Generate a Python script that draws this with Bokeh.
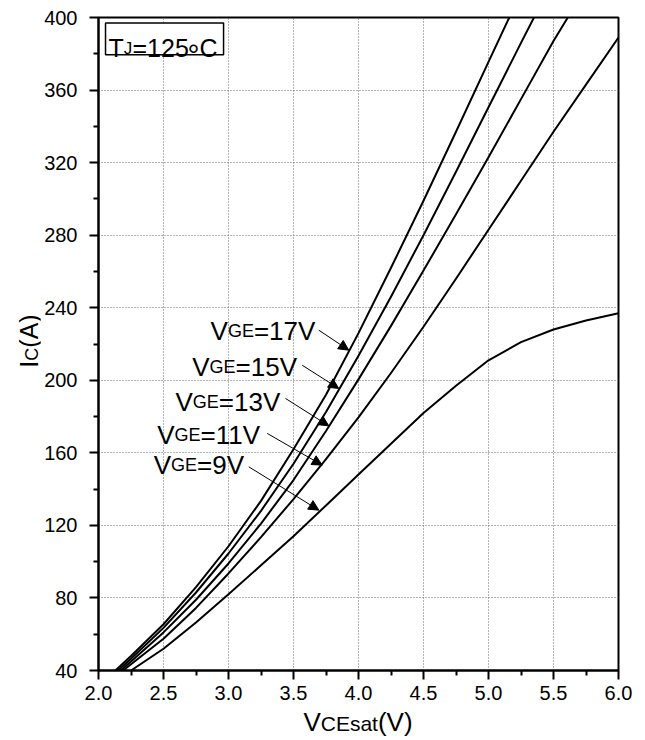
import math
from bokeh.plotting import figure
from bokeh.layouts import row, column
from bokeh.models import (FixedTicker, Label, Arrow, NormalHead, BoxAnnotation,
                          Range1d, PrintfTickFormatter, Div)
from bokeh.embed import file_html
from bokeh.resources import INLINE

# ---------------- data ----------------
vce_17 = [2.13, 2.25, 2.5, 2.75, 3.0, 3.25, 3.5, 3.75, 4.0, 4.25, 4.5, 4.75, 5.0, 5.16]
ic_17 = [40, 48, 65.5, 86, 108.5, 133.5, 162, 192, 226, 262, 299, 337, 375.5, 400]

vce_15 = [2.15, 2.25, 2.5, 2.75, 3.0, 3.25, 3.5, 3.75, 4.0, 4.25, 4.5, 4.75, 5.0, 5.25, 5.35]
ic_15 = [40, 46.5, 63.5, 83, 104.5, 128, 154, 182.5, 213.5, 246, 280, 315, 350.5, 386, 400]

vce_13 = [2.17, 2.25, 2.5, 2.75, 3.0, 3.25, 3.5, 3.75, 4.0, 4.25, 4.5, 4.75, 5.0, 5.25, 5.5, 5.61]
ic_13 = [40, 45, 61, 79, 99, 121, 145, 172, 200.5, 230, 260.5, 291.5, 323, 355, 387, 400]

vce_11 = [2.19, 2.25, 2.5, 2.75, 3.0, 3.25, 3.5, 3.75, 4.0, 4.25, 4.5, 4.75, 5.0, 5.25, 5.5, 5.75, 6.0]
ic_11 = [40, 43.5, 57.5, 74.5, 93.5, 113.5, 134.5, 156.5, 179.5, 204, 229.5, 256, 283, 310, 337, 363, 389]

vce_9 = [2.25, 2.5, 2.75, 3.0, 3.25, 3.5, 3.75, 4.0, 4.25, 4.5, 4.75, 5.0, 5.25, 5.5, 5.75, 6.0]
ic_9 = [40, 52, 66.5, 82, 98, 114, 131, 148, 165, 182, 197, 211, 221, 228, 233, 237]

series_names = ["17", "15", "13", "11", "9"]

x_ticks = [2.0, 2.5, 3.0, 3.5, 4.0, 4.5, 5.0, 5.5, 6.0]
x_tick_labels = ["2.0", "2.5", "3.0", "3.5", "4.0", "4.5", "5.0", "5.5", "6.0"]
x_minor = [2.25, 2.75, 3.25, 3.75, 4.25, 4.75, 5.25, 5.75]
y_ticks = [40, 80, 120, 160, 200, 240, 280, 320, 360, 400]
y_tick_labels = ["40", "80", "120", "160", "200", "240", "280", "320", "360", "400"]
y_minor = [60, 100, 140, 180, 220, 260, 300, 340, 380]

# label anchor positions (data coords) and arrows (data coords)
label_pos = {"17": (2.862, 227.0), "15": (2.721, 207.4), "13": (2.592, 188.1),
             "11": (2.452, 169.8), "9": (2.425, 153.2)}
arrow_pos = {"17": (3.695, 227.6, 3.925, 216.6), "15": (3.567, 208.3, 3.848, 195.5),
             "13": (3.438, 190.0, 3.771, 174.9), "11": (3.298, 170.7, 3.721, 153.2),
             "9": (3.156, 152.3, 3.695, 128.4)}

FONT = "Liberation Sans"
# Arial/Liberation Sans advance widths (em)
ADV = {"V": 0.667, "G": 0.778, "E": 0.667, "=": 0.584, "T": 0.611, "J": 0.5,
       "C": 0.722, "I": 0.278, "(": 0.333, ")": 0.333, "A": 0.667, "s": 0.5,
       "a": 0.556, "t": 0.278}
for d in "0123456789":
    ADV[d] = 0.556


def text_width(s, size):
    return sum(ADV.get(ch, 0.556) for ch in s) * size


YDIV_W = 40
XDIV_H = 30

p = figure(width=645 - YDIV_W, height=740 - XDIV_H, x_range=Range1d(2.0, 6.0), y_range=Range1d(40, 400),
           output_backend="svg", toolbar_location=None,
           min_border_left=98 - YDIV_W, min_border_right=27, min_border_top=17,
           min_border_bottom=70 - XDIV_H)
p.background_fill_color = "white"
p.border_fill_color = "white"
p.outline_line_color = "black"
p.outline_line_width = 2
p.outline_line_alpha = 1

# axes
p.xaxis.ticker = FixedTicker(ticks=x_ticks, minor_ticks=x_minor)
p.yaxis.ticker = FixedTicker(ticks=y_ticks, minor_ticks=y_minor)
p.xaxis.formatter = PrintfTickFormatter(format="%.1f")
p.yaxis.formatter = PrintfTickFormatter(format="%d")
p.xaxis.major_label_overrides = dict(zip(x_ticks, x_tick_labels))
p.yaxis.major_label_overrides = dict(zip(y_ticks, y_tick_labels))
for ax in (p.xaxis[0], p.yaxis[0]):
    ax.axis_line_width = 2
    ax.axis_line_color = "black"
    ax.major_tick_out = 9
    ax.major_tick_in = 0
    ax.minor_tick_out = 5
    ax.minor_tick_in = 0
    ax.major_tick_line_width = 2
    ax.minor_tick_line_width = 2
    ax.major_tick_line_color = "black"
    ax.minor_tick_line_color = "black"
    ax.major_label_text_font = FONT
    ax.major_label_text_font_size = "20px"
    ax.major_label_text_color = "black"
p.xaxis.major_label_standoff = 6
p.yaxis.major_label_standoff = 12

p.xgrid.ticker = FixedTicker(ticks=x_ticks)
p.ygrid.ticker = FixedTicker(ticks=y_ticks)
for g in (p.xgrid[0], p.ygrid[0]):
    g.grid_line_color = "#666666"
    g.grid_line_dash = "1 2"
    g.grid_line_width = 1

# curves
for xs, ys in [(vce_17, ic_17), (vce_15, ic_15), (vce_13, ic_13), (vce_11, ic_11), (vce_9, ic_9)]:
    p.line(xs, ys, line_color="black", line_width=2, line_join="round")


def runs_label(x, y, runs, x0=0.0, y0=0.0):
    """runs: list of (text, size). Places them consecutively along the baseline."""
    off = 0.0
    for txt, size in runs:
        p.add_layout(Label(x=x, y=y, text=txt, x_offset=x0 + off, y_offset=y0,
                           text_font=FONT, text_font_size=f"{size}px",
                           text_color="black", text_baseline="alphabetic", text_align="left"))
        off += text_width(txt, size)


# VGE labels and arrows
for nm in series_names:
    lx, ly = label_pos[nm]
    runs_label(lx, ly, [("V", 26), ("GE", 18), ("=" + nm + "V", 26)])
    xs, ys, xe, ye = arrow_pos[nm]
    p.add_layout(Arrow(end=NormalHead(size=10, fill_color="black", line_color="black", line_width=1),
                       x_start=xs, y_start=ys, x_end=xe, y_end=ye,
                       line_color="black", line_width=1))

# TJ box
p.add_layout(BoxAnnotation(left=2.054, right=2.962, top=397.0, bottom=379.4,
                           fill_color="white", fill_alpha=1.0,
                           line_color="black", line_width=1.5, line_alpha=1.0))
TJ_Y = -30.7
tj_runs = [("T", 25, 10, TJ_Y, "left"), ("J", 17, 25.3, TJ_Y, "left"),
           ("=125", 25, 34, TJ_Y, "left"), ("\u00b0", 30, 95, TJ_Y - 6.5, "center"),
           ("C", 25, 101, TJ_Y, "left")]
for txt, size, xo, yo, al in tj_runs:
    p.add_layout(Label(x=2.0, y=400, x_offset=xo, y_offset=yo, text=txt, text_font=FONT,
                       text_font_size=f"{size}px", text_color="black",
                       text_baseline="alphabetic", text_align=al))

# axis titles with smaller subscript-style letters (HTML text beside the figure)
ytitle_html = (
    '<div style="width:740px;height:40px;box-sizing:border-box;padding-top:9px;padding-left:58px;'
    'transform-origin:0 0;transform:translate(0px,740px) rotate(-90deg);'
    "font-family:'Liberation Sans',Arial,sans-serif;font-size:25px;line-height:40px;"
    'text-align:center;white-space:nowrap;color:black;">'
    'I<span style="font-size:18px">C</span>(A)</div>'
)
xtitle_html = (
    '<div style="width:605px;height:30px;box-sizing:border-box;padding-left:31px;'
    "font-family:'Liberation Sans',Arial,sans-serif;font-size:26px;line-height:25px;"
    'text-align:center;white-space:nowrap;color:black;">'
    'V<span style="font-size:21px">CEsat</span>(V)</div>'
)
ydiv = Div(text=ytitle_html, width=YDIV_W, height=740, margin=0)
xdiv = Div(text=xtitle_html, width=645 - YDIV_W, height=XDIV_H, margin=0)

layout = row(ydiv, column(p, xdiv, spacing=0, margin=0), spacing=0, margin=0)

open("out.html", "w").write(file_html(layout, INLINE))
